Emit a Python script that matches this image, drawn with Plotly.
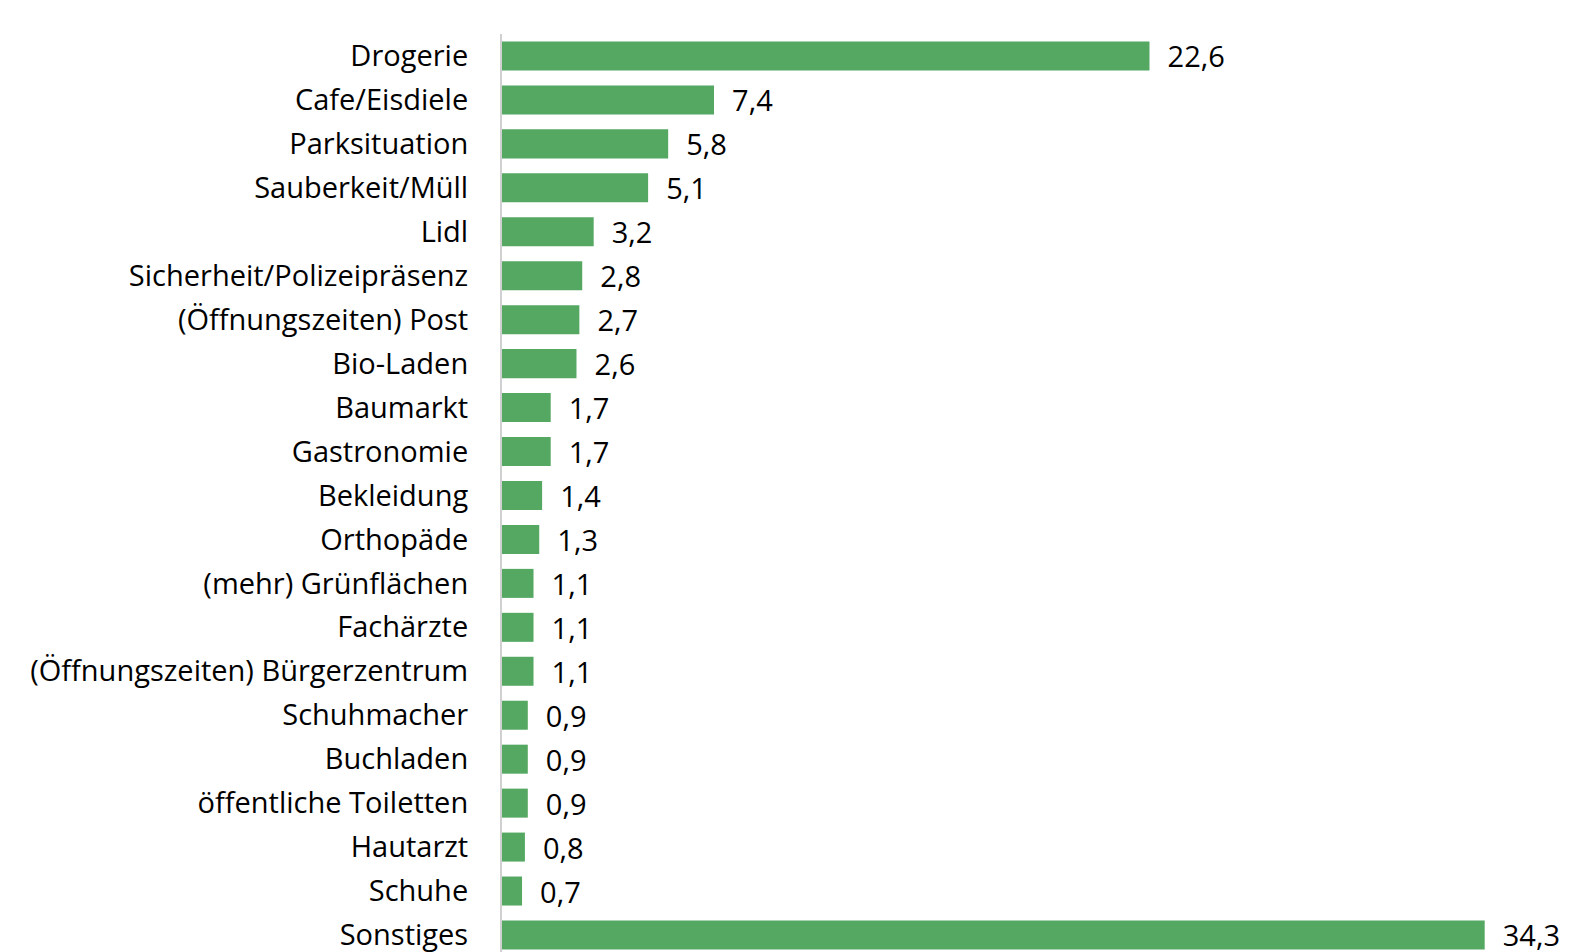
import plotly.graph_objects as go

categories = [
    "Drogerie", "Cafe/Eisdiele", "Parksituation", "Sauberkeit/Müll", "Lidl",
    "Sicherheit/Polizeipräsenz", "(Öffnungszeiten) Post", "Bio-Laden", "Baumarkt",
    "Gastronomie", "Bekleidung", "Orthopäde", "(mehr) Grünflächen", "Fachärzte",
    "(Öffnungszeiten) Bürgerzentrum", "Schuhmacher", "Buchladen",
    "öffentliche Toiletten", "Hautarzt", "Schuhe", "Sonstiges",
]
values = [22.6, 7.4, 5.8, 5.1, 3.2, 2.8, 2.7, 2.6, 1.7, 1.7, 1.4, 1.3, 1.1, 1.1,
          1.1, 0.9, 0.9, 0.9, 0.8, 0.7, 34.3]
# German decimal comma, with a small gap before the label
value_labels = ["  " + f"{v:.1f}".replace(".", ",") for v in values]

W, H = 1570, 952
left, top = 502, 34
px_per_unit = 28.65
row_px = 43.95
FONT = "Open Sans, sans-serif"
FS = 29

fig = go.Figure(go.Bar(
    x=values,
    y=list(range(len(categories))),
    orientation="h",
    marker=dict(color="#55A862", line=dict(width=0)),
    text=value_labels,
    textposition="outside",
    constraintext="none",
    textfont=dict(family=FONT, size=FS, color="#000000"),
    cliponaxis=False,
    width=0.66,
))

plot_w = W - left
plot_h = H - top
fig.update_layout(
    width=W, height=H,
    margin=dict(l=left, r=0, t=top, b=0, pad=0),
    paper_bgcolor="white", plot_bgcolor="white",
    showlegend=False,
    font=dict(family=FONT, size=FS, color="#000000"),
    xaxis=dict(range=[0, plot_w / px_per_unit], visible=False, fixedrange=True),
    yaxis=dict(
        range=[-0.5 + plot_h / row_px, -0.5],
        tickmode="array",
        tickvals=list(range(len(categories))),
        ticktext=categories,
        showline=True, linecolor="#D0D0D0", linewidth=2,
        showgrid=False, zeroline=False, ticks="",
        ticklabelstandoff=26,
        ticklabeloverflow="allow",
        tickfont=dict(family=FONT, size=FS, color="#000000"),
    ),
)

fig.write_html("out.html")
